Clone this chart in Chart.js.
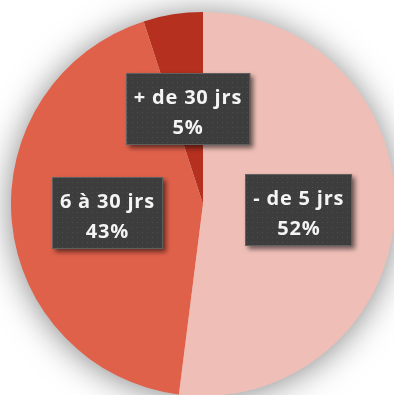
<!DOCTYPE html>
<html lang="fr">
<head>
    <meta charset="UTF-8">
    <title>Délais</title>
    <style>
        html, body { margin: 0; padding: 0; background: #fff; overflow: hidden; }
        #wrap { position: absolute; left: 0; top: 0; width: 400px; height: 400px; }
    </style>
</head>
<body>
    <div id="wrap"><canvas id="pie"></canvas></div>
    <script src="https://cdn.jsdelivr.net/npm/chart.js@4/dist/chart.umd.min.js"></script>
    <script>
        const labels = ['- de 5 jrs', '6 à 30 jrs', '+ de 30 jrs'];
        const values = [52, 43, 5];
        const colors = ['#EFBFB7', '#E0614A', '#B5301F'];

        // small dotted tile used to fill the label boxes
        function dotPattern(ctx) {
            const tile = document.createElement('canvas');
            tile.width = 5; tile.height = 5;
            const t = tile.getContext('2d');
            t.fillStyle = '#3d3d3d';
            t.fillRect(0, 0, 5, 5);
            t.fillStyle = '#4e4e4e';
            t.fillRect(2, 2, 1, 1);
            return ctx.createPattern(tile, 'repeat');
        }

        // soft glow behind the whole pie
        const glow = {
            id: 'glow',
            beforeDatasetsDraw(chart) {
                const arc = chart.getDatasetMeta(0).data[0];
                if (!arc) return;
                const ctx = chart.ctx;
                ctx.save();
                ctx.shadowColor = 'rgba(0,0,0,0.5)';
                ctx.shadowBlur = 34;
                ctx.shadowOffsetY = 2;
                ctx.fillStyle = '#fff';
                ctx.beginPath();
                ctx.arc(arc.x, arc.y, arc.outerRadius - 1, 0, Math.PI * 2);
                ctx.fill();
                ctx.restore();
            }
        };

        const boxLabels = {
            id: 'boxLabels',
            afterDatasetsDraw(chart) {
                const ctx = chart.ctx;
                const fill = dotPattern(ctx);
                const data = chart.data.datasets[0].data;
                ctx.save();
                ctx.font = 'bold 20px "Open Sans", sans-serif';
                ctx.letterSpacing = '0.8px';
                chart.getDatasetMeta(0).data.forEach((arc, i) => {
                    const pos = arc.tooltipPosition();
                    const l1 = chart.data.labels[i];
                    const l2 = data[i] + '%';
                    const w = Math.max(ctx.measureText(l1).width, ctx.measureText(l2).width) + 16;
                    const h = 72;
                    const x = Math.round(pos.x - w / 2), y = Math.round(pos.y - h / 2);
                    ctx.save();
                    ctx.shadowColor = 'rgba(0,0,0,0.55)';
                    ctx.shadowBlur = 5;
                    ctx.shadowOffsetX = 3;
                    ctx.shadowOffsetY = 3;
                    ctx.fillStyle = fill;
                    ctx.fillRect(x, y, w, h);
                    ctx.restore();
                    ctx.strokeStyle = 'rgba(120,120,120,0.6)';
                    ctx.lineWidth = 1;
                    ctx.strokeRect(x + 0.5, y + 0.5, w - 1, h - 1);
                    ctx.fillStyle = '#f4f4f4';
                    ctx.textAlign = 'center';
                    ctx.textBaseline = 'alphabetic';
                    ctx.fillText(l1, pos.x, pos.y - 5);
                    ctx.fillText(l2, pos.x, pos.y + 25);
                });
                ctx.restore();
            }
        };

        new Chart(document.getElementById('pie'), {
            type: 'pie',
            data: {
                labels,
                datasets: [{
                    data: values,
                    backgroundColor: colors,
                    borderWidth: 0
                }]
            },
            options: {
                responsive: true,
                maintainAspectRatio: false,
                animation: false,
                layout: { padding: { left: 11, top: 12, right: 5, bottom: 4 } },
                plugins: {
                    legend: { display: false },
                    tooltip: { enabled: false }
                }
            },
            plugins: [glow, boxLabels]
        });
    </script>
</body>
</html>
